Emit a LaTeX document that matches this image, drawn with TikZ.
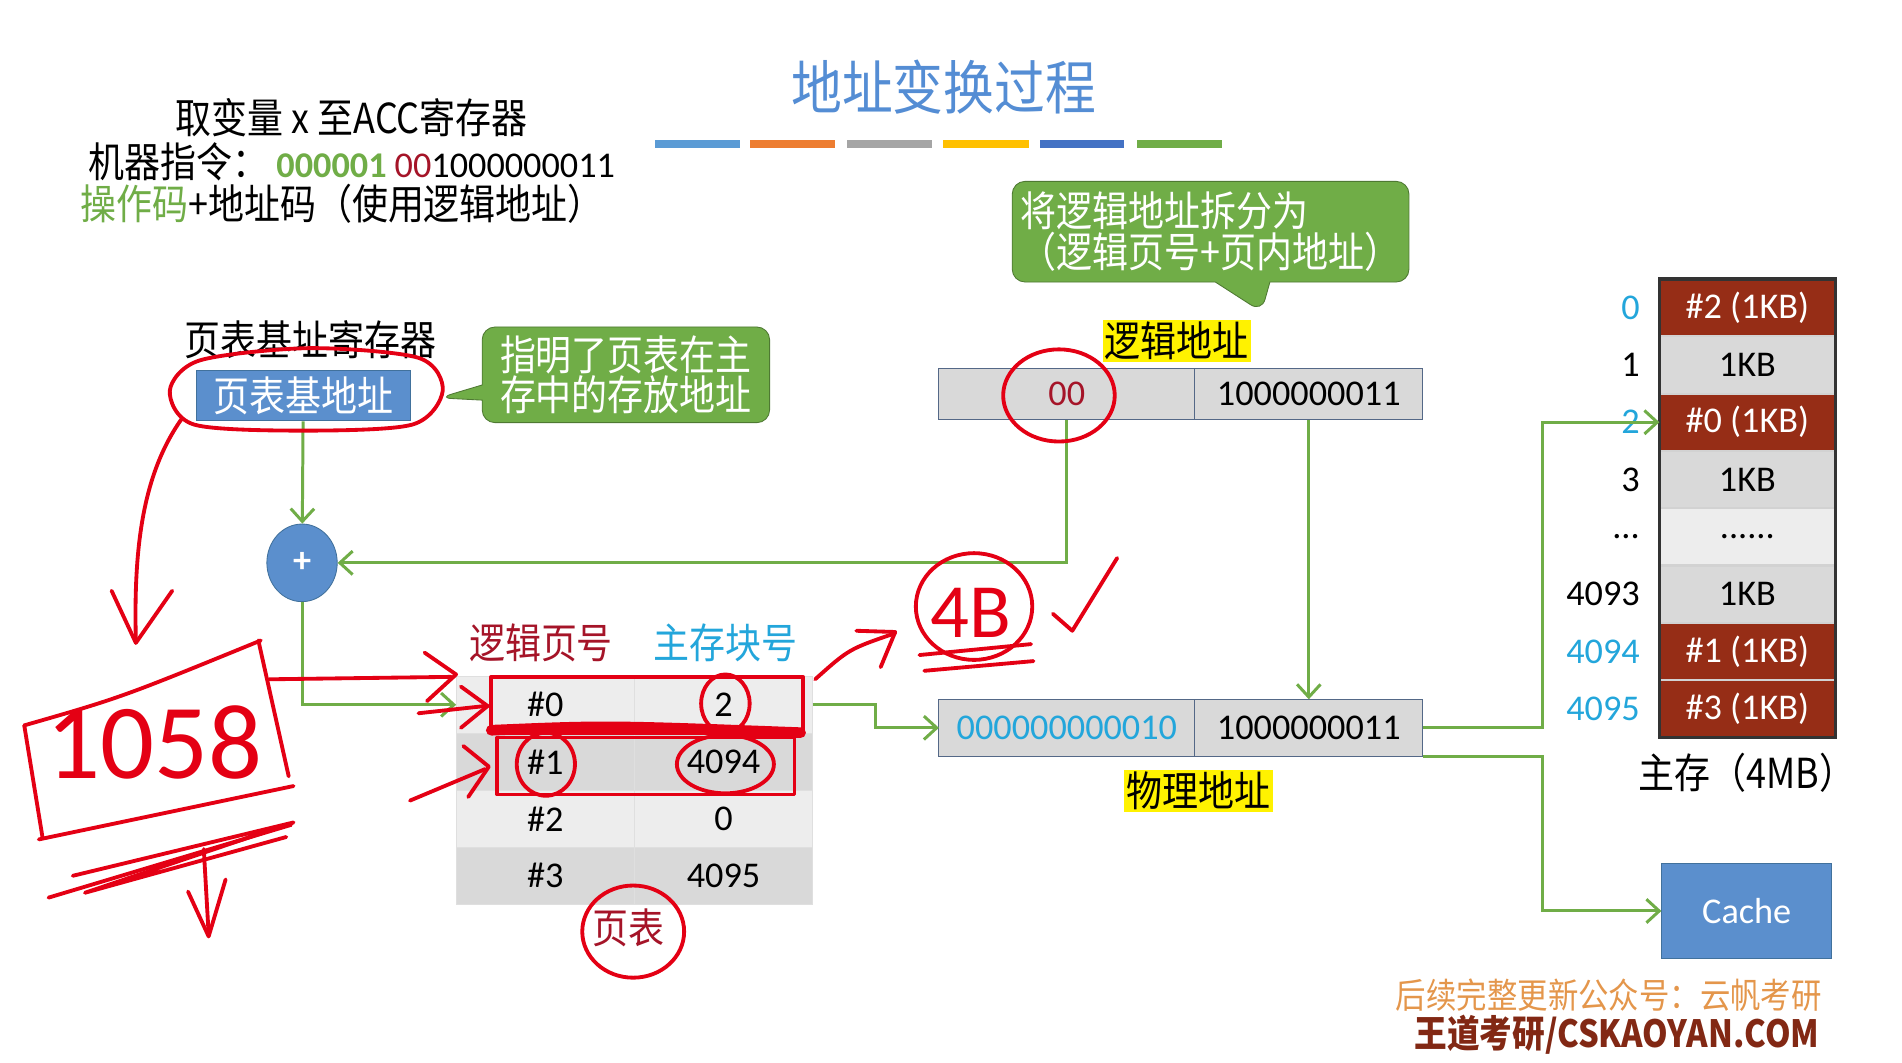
\documentclass[tikz,border=0pt]{standalone}
\usepackage{fontspec}
\setmainfont[FakeStretch=0.87]{Noto Sans CJK SC}
\newfontfamily\lat{Carlito}
\usepackage{tikz}
\usetikzlibrary{shapes.geometric,shapes.callouts,arrows.meta,positioning}
\definecolor{titleblue}{RGB}{84,141,212}
\definecolor{boxblue}{RGB}{91,143,205}
\definecolor{boxedge}{RGB}{65,113,156}
\definecolor{notegreen}{RGB}{112,173,71}
\definecolor{darkred}{RGB}{165,20,40}
\definecolor{hcyan}{RGB}{35,166,219}
\definecolor{cellgray}{RGB}{217,217,217}
\definecolor{celllight}{RGB}{237,237,237}
\definecolor{slate}{RGB}{84,104,135}
\definecolor{memred}{RGB}{150,45,22}
\definecolor{hred}{RGB}{228,0,20}
\definecolor{footorange}{RGB}{228,150,75}
\definecolor{footbrown}{RGB}{130,40,20}
\definecolor{barblue}{RGB}{91,155,213}
\definecolor{barorange}{RGB}{237,125,49}
\definecolor{bargray}{RGB}{165,165,165}
\definecolor{bargold}{RGB}{255,192,0}
\definecolor{barnavy}{RGB}{68,114,196}
\tikzstyle{bluebox} = [rectangle, minimum width=3.52cm, minimum height=0.84cm, draw=boxedge, fill=boxblue, text=white, inner sep=0pt]
\tikzstyle{note} = [rectangle callout, rounded corners=6pt, draw=notegreen!70!black, fill=notegreen, text=white, align=left, inner sep=4pt, font=\fontsize{19.4}{19}\selectfont]
\tikzstyle{addr} = [rectangle, minimum height=0.84cm, draw=slate, fill=cellgray, inner sep=0pt, outer sep=0pt]
\tikzstyle{pcell} = [rectangle, minimum width=2.94cm, minimum height=0.94cm, draw=white!75!gray, inner sep=0pt, outer sep=0pt]
\tikzstyle{mcell} = [rectangle, minimum width=2.9cm, minimum height=0.945cm, draw=gray!35, line width=1pt, inner sep=0pt, outer sep=0pt]
\tikzstyle{yellowtag} = [rectangle, fill=yellow, inner sep=1pt]
\tikzstyle{arrow} = [line width=1.4pt, draw=notegreen, -{Straight Barb[length=6pt,width=11pt]}]
\tikzstyle{hand} = [draw=hred, line width=1.8pt, line cap=round, line join=round]
\newcommand{\numfont}{\lat\fontsize{17}{20}\selectfont}
\newcommand{\zhfont}{\fontsize{19.4}{23}\selectfont}

\begin{document}
\begin{tikzpicture}[x=0.02cm,y=-0.02cm,font=\zhfont]
\useasboundingbox [fill=white] (0,0) rectangle (1568,876);
% title
\node (title) [text=titleblue, font=\fontsize{27.4}{30}\selectfont] at (778,72) {地址变换过程};
\fill[barblue] (540,115) rectangle (610,122);
\fill[barorange] (618,115) rectangle (688,122);
\fill[bargray] (698,115) rectangle (768,122);
\fill[bargold] (777,115) rectangle (848,122);
\fill[barnavy] (857,115) rectangle (927,122);
\fill[notegreen] (937,115) rectangle (1007,122);
% instruction
\node (fetch) at (290,97) {取变量 x 至ACC寄存器};
\node (instr) at (290,133) {机器指令：\ {\numfont\bfseries\color{notegreen}000001} {\numfont\color{darkred}00}{\numfont 1000000011}};
\node (fields) at (282,168) {{\color{notegreen}操作码}+地址码（使用逻辑地址）};
% page table base register
\node (regname) at (256,280) {页表基址寄存器};
\node (base) [bluebox] at (250,326) {页表基地址};
\node (note1) [note, minimum width=4.74cm, minimum height=1.44cm, callout absolute pointer={(362,328)}] at (516,309) {指明了页表在主\\存中的存放地址};
\node (note2) [note, minimum width=6.3cm, minimum height=1.66cm, callout pointer width=0.9cm, callout absolute pointer={(1040,257)}] at (998,191) {将逻辑地址拆分为\\（逻辑页号+页内地址）};
% logical address
\node (logname) [yellowtag] at (970,281) {逻辑地址};
\node (la1) [addr, minimum width=4.22cm, text=darkred] at (879.5,325) {\numfont 00};
\node (la2) [addr, minimum width=3.76cm, right=0pt of la1] {\numfont 1000000011};
\node (plus) [ellipse, minimum width=1.16cm, minimum height=1.28cm, fill=boxblue, draw=boxedge, text=white] at (249,464) {\numfont\bfseries +};
% page table
\node (colpage) [text=darkred] at (446,530) {逻辑页号};
\node (colblock) [text=hcyan] at (598,530) {主存块号};
\node (pg0) [pcell, fill=celllight] at (449.5,581) {\numfont\#0};
\node (blk0) [pcell, fill=celllight, right=0pt of pg0] {\numfont 2};
\node (pg1) [pcell, fill=cellgray, below=0pt of pg0] {\numfont\#1};
\node (blk1) [pcell, fill=cellgray, right=0pt of pg1] {\numfont 4094};
\node (pg2) [pcell, fill=celllight, below=0pt of pg1] {\numfont\#2};
\node (blk2) [pcell, fill=celllight, right=0pt of pg2] {\numfont 0};
\node (pg3) [pcell, fill=cellgray, below=0pt of pg2] {\numfont\#3};
\node (blk3) [pcell, fill=cellgray, right=0pt of pg3] {\numfont 4095};
\node (ptname) [text=darkred] at (518,765) {页表};
% physical address
\node (pa1) [addr, minimum width=4.22cm, minimum height=0.94cm, text=hcyan] at (879.5,600) {\numfont 000000000010};
\node (pa2) [addr, minimum width=3.76cm, minimum height=0.94cm, right=0pt of pa1] {\numfont 1000000011};
\node (physname) [yellowtag] at (988,652) {物理地址};
% main memory
\node (mem0) [mcell, fill=memred, text=white] at (1440.5,253.6) {\numfont\#2 (1KB)};
\node (mem1) [mcell, fill=cellgray, below=0pt of mem0] {\numfont 1KB};
\node (mem2) [mcell, fill=memred, text=white, below=0pt of mem1] {\numfont\#0 (1KB)};
\node (mem3) [mcell, fill=cellgray, below=0pt of mem2] {\numfont 1KB};
\node (mem4) [mcell, fill=celllight, below=0pt of mem3] {\numfont ......};
\node (mem5) [mcell, fill=cellgray, below=0pt of mem4] {\numfont 1KB};
\node (mem6) [mcell, fill=memred, text=white, below=0pt of mem5] {\numfont\#1 (1KB)};
\node (mem7) [mcell, fill=memred, text=white, below=0pt of mem6] {\numfont\#3 (1KB)};
\draw[line width=1.5pt, draw=black!80] (mem0.north west) rectangle (mem7.south east);
\node (lab0) [left=0.2cm of mem0, text=hcyan] {\numfont 0};
\node (lab1) [left=0.2cm of mem1] {\numfont 1};
\node (lab2) [left=0.2cm of mem2, text=hcyan] {\numfont 2};
\node (lab3) [left=0.2cm of mem3] {\numfont 3};
\node (lab4) [left=0.2cm of mem4] {\numfont ...};
\node (lab5) [left=0.2cm of mem5] {\numfont 4093};
\node (lab6) [left=0.2cm of mem6, text=hcyan] {\numfont 4094};
\node (lab7) [left=0.2cm of mem7, text=hcyan] {\numfont 4095};
\node (memname) at (1440,637) {主存（4MB）};
\node (cache) [bluebox, minimum width=2.8cm, minimum height=1.56cm] at (1440,751) {\numfont Cache};
% footer
\node (foot1) [text=footorange, anchor=east, font=\fontsize{16.4}{18}\selectfont] at (1508,820) {后续完整更新公众号：云帆考研};
\node (foot2) [text=footbrown, anchor=east, font=\fontsize{17.6}{20}\selectfont\bfseries] at (1506,853) {王道考研/CSKAOYAN.COM};
% connectors
\draw [arrow] (base) -- (plus);
\draw [arrow] (la1.south) |- (plus.east);
\draw [arrow] (plus.south) |- (pg0.west);
\draw [arrow] (blk0.east) -- ++(52,0) |- (pa1.west);
\draw [arrow] (la2.south) -- (pa2.north);
\draw [arrow] (pa2.east) -- ++(99,0) |- (mem2.west);
\draw [arrow] (pa2.south east) -- ++(99,0) |- (cache.west);
% hand notes
\draw[hand] plot[smooth cycle] coordinates {(165,297) (255,287) (345,295) (365,322) (340,350) (250,355) (160,350) (140,322)};
\draw[hand] (150,345) .. controls (118,390) and (110,450) .. (112,528);
\draw[hand] (92,487) -- (112,530) -- (142,487);
\draw[hand] (20,598) -- (35,690);
\draw[hand] (20,598) .. controls (100,575) .. (215,528);
\draw[hand] (213,528) -- (238,640);
\draw[hand] (32,692) -- (242,648);
\node (sum) [text=hred, font=\lat\fontsize{50}{50}\selectfont] at (127,612) {1058};
\draw[hand] (40,740) -- (240,680);
\draw[hand] (60,722) -- (242,678) -- (70,736) -- (236,690);
\draw[hand] (168,700) -- (172,770);
\draw[hand] (155,735) -- (172,772) -- (186,725);
\draw[hand] (222,560) -- (372,558);
\draw[hand] (350,538) -- (376,556) -- (352,578);
\draw[hand] (345,588) -- (400,582);
\draw[hand] (380,566) -- (402,582) -- (380,600);
\draw[hand] (338,660) -- (400,634);
\draw[hand] (382,615) -- (403,632) -- (386,657);
\draw[hand] (405,558) rectangle (662,604);
\draw[hand] (410,608) rectangle (655,655);
\draw[hand, line width=5pt] (405,602) .. controls (500,598) .. (660,604);
\draw[hand] (598,580) ellipse [x radius=0.4cm, y radius=0.48cm];
\draw[hand] (450,630) ellipse [x radius=0.48cm, y radius=0.52cm];
\draw[hand] (598,630) ellipse [x radius=0.8cm, y radius=0.48cm];
\draw[hand] (672,560) .. controls (700,535) .. (738,522);
\draw[hand] (706,520) -- (738,521) -- (726,550);
\draw[hand] (803,500) ellipse [x radius=0.96cm, y radius=0.88cm];
\node (fourb) [text=hred, font=\lat\fontsize{36}{36}\selectfont] at (800,505) {4B};
\draw[hand] (758,540) -- (850,531);
\draw[hand] (762,553) -- (852,545);
\draw[hand] (868,506) -- (884,520) -- (921,460);
\draw[hand] (873,326) ellipse [x radius=0.92cm, y radius=0.76cm];
\draw[hand] (522,768) ellipse [x radius=0.84cm, y radius=0.76cm];
\end{tikzpicture}
\end{document}
